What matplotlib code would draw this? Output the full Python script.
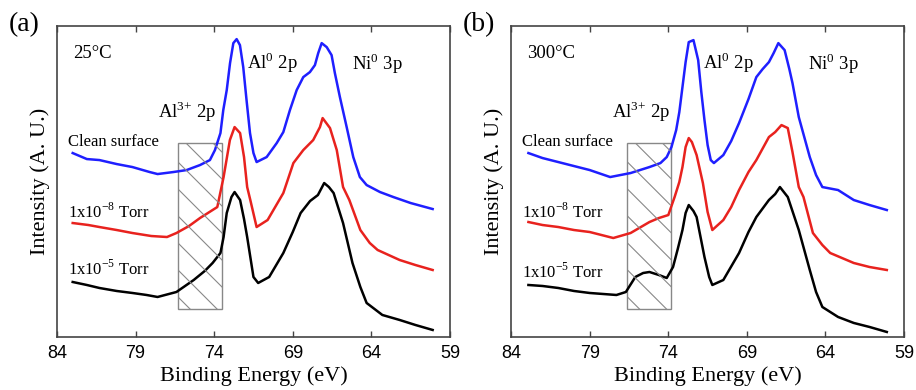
import matplotlib
matplotlib.use('Agg')
import matplotlib.pyplot as plt
from matplotlib.patches import Rectangle
import numpy as np

plt.rcParams['font.family'] = ['Liberation Serif', 'DejaVu Serif']
plt.rcParams['mathtext.fontset'] = 'custom'
plt.rcParams['mathtext.rm'] = 'Liberation Serif'

############################ panel (a) 25 C ############################
a_blue_e = [83.0, 82.1, 81.3, 80.2, 79.2, 78.1, 77.6, 76.6, 75.75, 74.9, 74.27, 73.95, 73.6, 73.42,
            73.2, 72.99, 72.78, 72.57, 72.36, 72.15, 71.94, 71.72, 71.5, 71.3, 70.66, 70.02, 69.6,
            69.18, 68.75, 68.33, 67.91, 67.59, 67.38, 67.16, 66.84, 66.53, 66.32, 66.0, 65.57,
            65.15, 64.73, 64.3, 63.45, 62.6, 61.5, 60.1]
a_blue_i = [184, 178, 177, 173, 170, 165, 163, 165, 167, 172, 177, 187, 204, 227,
            247, 274, 294, 298, 292, 270, 237, 204, 184, 175, 180, 194, 205,
            227, 247, 260, 265, 272, 284, 294, 290, 282, 264, 240, 210,
            180, 160, 152, 145, 140, 134, 128]

a_red_e = [83.0, 82.0, 81.3, 80.2, 79.2, 78.0, 77.0, 76.4, 75.6, 74.9, 74.2, 73.8, 73.4, 73.0, 72.7,
           72.35, 72.1, 71.9, 71.7, 71.3, 70.6, 69.6, 68.96, 68.33, 67.7, 67.27, 67.1, 66.63,
           66.2, 65.8, 65.4, 64.7, 64.1, 63.6, 62.2, 61.2, 60.1]
a_red_i = [114, 112, 110, 107, 104, 101, 100, 104, 111, 119, 126, 130, 160, 197, 210,
           204, 180, 150, 137, 110, 117, 144, 174, 187, 197, 210, 219, 209,
           187, 150, 137, 107, 94, 87, 77, 72, 67]

a_black_e = [83.0, 82.1, 81.3, 80.2, 79.2, 78.3, 77.6, 76.4, 75.3, 74.6, 74.1, 73.6, 73.4, 73.2,
             72.9, 72.7, 72.35, 72.1, 71.9, 71.5, 71.2, 70.5, 69.6, 69.0, 68.5, 67.9, 67.4,
             67.0, 66.7, 66.4, 65.8, 65.2, 64.7, 64.3, 63.3, 62.2, 61.2, 60.1]
a_black_i = [55, 52, 49, 46, 44, 42, 40, 45, 57, 66, 74, 84, 100, 124,
             140, 145, 137, 118, 100, 60, 54, 60, 84, 105, 124, 136, 142,
             154, 150, 144, 114, 74, 50, 34, 22, 17, 12, 7]

############################ panel (b) 300 C ############################
b_blue_e = [82.9, 82.0, 81.0, 80.0, 79.0, 77.7, 76.4, 75.2, 74.5, 74.1, 73.8, 73.5, 73.3, 73.1,
            72.9, 72.7, 72.4, 72.1, 71.9, 71.7, 71.5, 71.3, 71.1, 70.5, 70.0, 69.5, 68.9, 68.4,
            68.0, 67.6, 67.3, 67.0, 66.6, 66.3, 66.1, 65.7, 65.0, 64.6, 64.2, 63.2, 62.2, 61.2,
            60.1]
b_blue_i = [184, 179, 175, 171, 167, 160, 164, 170, 174, 180, 190, 207, 225, 250,
            275, 295, 297, 277, 245, 217, 192, 177, 174, 182, 196, 214, 238, 260,
            268, 275, 284, 294, 287, 268, 254, 220, 180, 162, 150, 147, 137, 132,
            127]

b_red_e = [82.9, 82.0, 81.0, 80.0, 79.0, 77.5, 76.4, 75.2, 74.6, 74.0, 73.6, 73.3, 73.1, 72.9,
           72.7, 72.5, 72.2, 71.8, 71.5, 71.2, 70.5, 70.0, 69.5, 68.9, 68.4, 67.6, 67.2,
           66.8, 66.4, 66.1, 65.7, 65.4, 64.8, 64.2, 63.7, 62.2, 61.2, 60.1]
b_red_i = [115, 112, 110, 107, 105, 99, 104, 115, 119, 122, 140, 155, 170, 190,
           199, 195, 182, 154, 125, 107, 117, 130, 147, 165, 177, 200, 205,
           212, 209, 185, 150, 140, 104, 92, 84, 74, 70, 67]

b_black_e = [82.9, 82.0, 81.0, 80.0, 79.0, 77.3, 76.7, 76.1, 75.6, 75.2, 74.6, 74.1, 73.7, 73.4,
             73.1, 72.9, 72.7, 72.4, 72.2, 71.7, 71.4, 71.2, 70.5, 69.5, 68.9, 68.4, 67.6,
             67.2, 66.9, 66.4, 65.7, 65.0, 64.6, 64.2, 63.2, 62.2, 61.2, 60.1]
b_black_i = [52, 51, 49, 46, 44, 42, 45, 60, 64, 65, 62, 59, 70, 88,
             107, 124, 132, 126, 120, 80, 60, 52, 57, 84, 105, 120, 137,
             143, 150, 140, 107, 67, 45, 30, 20, 14, 10, 5]

xticks = [84, 79, 74, 69, 64, 59]
sample_labels = ['Clean surface', r'1x10$^\mathrm{-8}$ Torr', r'1x10$^\mathrm{-5}$ Torr']
peak_labels = [r'Al$^\mathrm{0}$ 2p', r'Ni$^\mathrm{0}$ 3p', r'Al$^{\mathrm{3{+}}}$ 2p']

panels = [
    dict(tag='(a)', temp='25°C',
         curves=[(a_blue_e, a_blue_i, '#1f1fff'), (a_red_e, a_red_i, '#e8221e'), (a_black_e, a_black_i, 'black')],
         box=(76.3, 73.5),
         label_y=[195, 125, 68], peak_x=[71.9, 65.2, 77.6]),
    dict(tag='(b)', temp='300°C',
         curves=[(b_blue_e, b_blue_i, '#1f1fff'), (b_red_e, b_red_i, '#e8221e'), (b_black_e, b_black_i, 'black')],
         box=(76.6, 73.8),
         label_y=[195, 125, 65], peak_x=[71.8, 65.1, 77.6]),
]

fig = plt.figure(figsize=(9.16, 3.9), dpi=100)
lefts = [0.0622, 0.558]
tag_x = [0.010, 0.505]
width = 0.429

for left, tx, p in zip(lefts, tag_x, panels):
    ax = fig.add_axes([left, 0.136, width, 0.797])
    for e, i, c in p['curves']:
        ax.plot(e, i, color=c, lw=1.8)

    # hatched Al3+ window, hatch drawn as clipped diagonals (wider spacing than mpl hatch)
    x0, x1 = p['box']
    box = Rectangle((x1, 28), x0 - x1, 166, fill=False, edgecolor='#888888', lw=1.0)
    ax.add_patch(box)
    k = width * 916 / 25.0          # pixels per eV (y units are pixels)
    ee = np.array([x0, x1])
    for c0 in np.arange(175 - 27 * 7, 175 + 27 * 4, 27):
        ln, = ax.plot(ee, c0 - (x0 - ee) * k, color='#888888', lw=0.8)
        ln.set_clip_path(box)

    ax.set_xlim(84, 59)
    ax.set_ylim(0, 311)
    ax.set_xticks(xticks)
    ax.set_yticks([])
    ax.tick_params(axis='x', direction='in', top=True, length=4, width=1, color='#444444',
                   labelsize=13, pad=6)
    for lab in ax.get_xticklabels():
        lab.set_family('Liberation Sans')
    for s in ax.spines.values():
        s.set_color('#444444')
        s.set_linewidth(1.2)

    ax.set_xlabel('Binding Energy (eV)', fontsize=16, labelpad=3)
    ax.set_ylabel('Intensity (A. U.)', fontsize=16, labelpad=5)

    ax.text(83.0, 284, p['temp'], fontsize=13.5, va='center')
    ax.text(p['peak_x'][0], 275, peak_labels[0], fontsize=13.5, va='center')
    ax.text(p['peak_x'][1], 274, peak_labels[1], fontsize=13.5, va='center')
    ax.text(p['peak_x'][2], 225, peak_labels[2], fontsize=13.5, va='center')
    for lab, y in zip(sample_labels, p['label_y']):
        ax.text(83.3, y, lab, fontsize=12, va='center')

    fig.text(tx, 0.936, p['tag'], fontsize=20, va='center')

fig.savefig('out.png', dpi=100)
